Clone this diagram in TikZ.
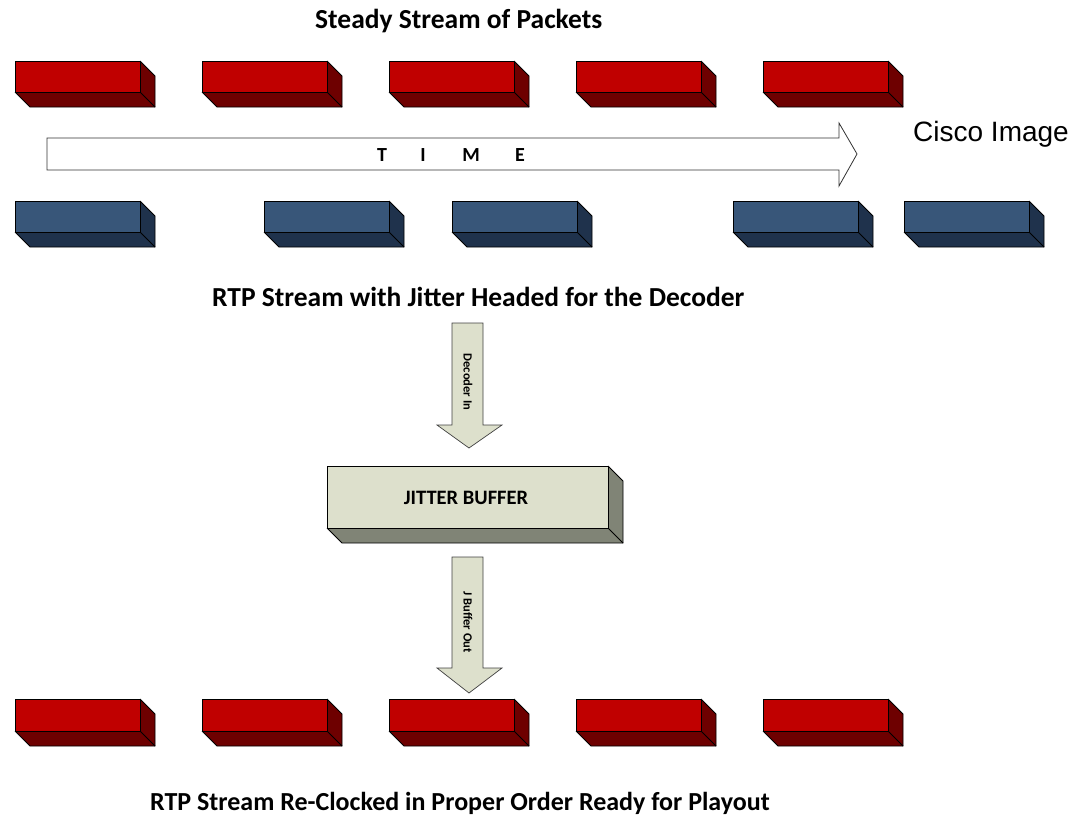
\documentclass[tikz,border=0pt]{standalone}
\usepackage{fontspec}
\setmainfont{Carlito}
\newfontfamily\arialfont{Liberation Sans}
\definecolor{redfront}{RGB}{192,0,0}
\definecolor{redside}{RGB}{110,0,0}
\definecolor{bluefront}{RGB}{56,86,121}
\definecolor{blueside}{RGB}{31,50,76}
\definecolor{jbfront}{RGB}{221,224,204}
\definecolor{jbside}{RGB}{128,132,118}
\definecolor{arrowfill}{RGB}{221,224,204}
\tikzset{
  facefront/.style={draw=black, line width=0.9pt, line join=miter},
  title/.style={font=\bfseries\fontsize{27.5}{32}\selectfont, inner sep=0pt, anchor=west},
  timeletter/.style={font=\bfseries\fontsize{20}{24}\selectfont, inner sep=0pt},
  arrowlabel/.style={font=\bfseries\fontsize{12.5}{14}\selectfont, inner sep=0pt, rotate=-90},
  bigarrow/.style={draw=black!75, line width=0.7pt, fill=arrowfill, line join=miter},
}
% \pkt{name}{x}{y}{w}{h}{front}{side}
\newcommand{\pkt}[7]{%
  \fill[#7] (#2+#4,#3) -- (#2+#4+15,#3+15) -- (#2+#4+15,#3+#5+15) -- (#2+#4,#3+#5) -- cycle;
  \fill[#7] (#2,#3+#5) -- (#2+#4,#3+#5) -- (#2+#4+15,#3+#5+15) -- (#2+15,#3+#5+15) -- cycle;
  \draw[facefront] (#2+#4,#3) -- (#2+#4+15,#3+15) -- (#2+#4+15,#3+#5+15) -- (#2+15,#3+#5+15) -- (#2,#3+#5);
  \draw[facefront] (#2+#4,#3+#5) -- (#2+#4+15,#3+#5+15);
  \node[facefront, fill=#6, minimum width=#4pt, minimum height=#5pt, inner sep=0pt, anchor=north west] (#1) at (#2,#3) {};
}
\begin{document}
\begin{tikzpicture}[x=1pt,y=-1pt]
\useasboundingbox (0,0) rectangle (1092,822);
% title
\node[title] (t1) at (315,21) {Steady Stream of Packets};
% top red row
\foreach \i/\xx in {1/15,2/202,3/389,4/576,5/763}{
  \pkt{r\i}{\xx}{61}{125}{31}{redfront}{redside}
}
% time arrow
\draw[draw=black!80, line width=0.8pt, fill=white] (47,138) -- (839,138) -- (839,123) -- (857,154) -- (839,186) -- (839,170) -- (47,170) -- cycle;
\node[timeletter] (tT) at (382,155) {T};
\node[timeletter] (tI) at (423,155) {I};
\node[timeletter] (tM) at (471,155) {M};
\node[timeletter] (tE) at (520,155) {E};
\node[font=\arialfont\fontsize{28}{32}\selectfont, inner sep=0pt, anchor=west] (cisco) at (913,134) {Cisco Image};
% blue row
\foreach \i/\xx in {1/15,2/264,3/452,4/733,5/904}{
  \pkt{b\i}{\xx}{201}{125}{31}{bluefront}{blueside}
}
\node[title] (t2) at (212,297) {RTP Stream with Jitter Headed for the Decoder};
% decoder in arrow
\draw[bigarrow] (452,323) -- (483,323) -- (483,425) -- (502,425) -- (469,448) -- (437,425) -- (452,425) -- cycle;
\node[arrowlabel] (din) at (468,382) {Decoder In};
% jitter buffer
\pkt{jb}{327}{466}{281}{62}{jbfront}{jbside}
\node[font=\bfseries\fontsize{20.5}{24}\selectfont, inner sep=0pt] (jbt) at (466,498) {JITTER BUFFER};
% j buffer out arrow
\draw[bigarrow] (452,557) -- (483,557) -- (483,668) -- (502,668) -- (469,693) -- (437,668) -- (452,668) -- cycle;
\node[arrowlabel] (jout) at (468,622) {J Buffer Out};
% bottom red row
\foreach \i/\xx in {1/15,2/202,3/389,4/576,5/763}{
  \pkt{o\i}{\xx}{699}{125}{32}{redfront}{redside}
}
\node[title, anchor=center, font=\bfseries\fontsize{26}{30}\selectfont] (t3) at (460,803) {RTP Stream Re-Clocked in Proper Order Ready for Playout};
\end{tikzpicture}
\end{document}
